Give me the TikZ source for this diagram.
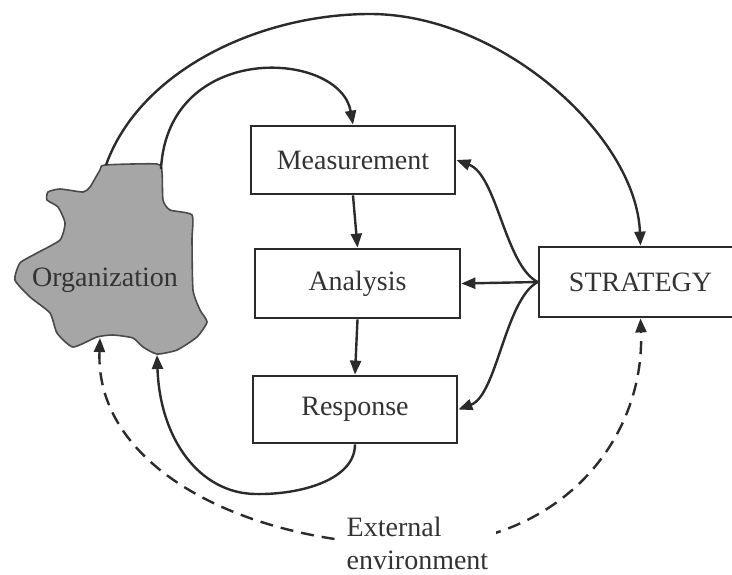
\documentclass[tikz,border=0pt]{standalone}
\usepackage{fontspec}
\setmainfont{Liberation Serif}
\usetikzlibrary{arrows.meta}
\definecolor{ink}{HTML}{2B2B2B}
\definecolor{txt}{HTML}{333333}
\definecolor{blobfill}{HTML}{A6A6A6}
\definecolor{blobline}{HTML}{4A4A4A}
\tikzset{
  stepbox/.style={draw=ink, line width=2.8pt, fill=white, minimum width=204pt,
    minimum height=68pt, inner sep=0pt, text=txt,
    font=\fontsize{28}{33}\selectfont},
  conn/.style={draw=ink, line width=2.4pt, -{Triangle[length=14pt,width=11pt]}},
  envconn/.style={draw=ink, line width=2.4pt, dash pattern=on 13pt off 8pt,
    {Triangle[length=14pt,width=11pt]}-{Triangle[length=14pt,width=11pt]}},
  lbl/.style={text=txt, font=\fontsize{28}{33}\selectfont},
}
\begin{document}
\begin{tikzpicture}[x=1pt,y=-1pt]
\clip (0,0) rectangle (732,574);
\fill[white] (0,0) rectangle (732,574);
% organization blob
\draw[fill=blobfill, draw=blobline, line width=1.6pt]
  plot[smooth cycle, tension=0.35] coordinates {
  (105,165) (157,164) (162,172) (163,200) (170,210) (192,215) (192,240)
  (193,290) (200,310) (207,322) (197,337) (177,350) (157,354) (143,347)
  (133,338) (113,335) (97,337) (73,347) (57,333) (50,313) (30,297)
  (15,280) (20,263) (37,253) (60,240) (65,223) (58,207) (47,200)
  (48,192) (60,189) (83,192) (90,187) (100,170)};
\node[lbl] (org) at (105,280) {Organization};
\coordinate (orgT1) at (106,165);
\coordinate (orgT2) at (161,169);
\coordinate (orgB1) at (100,338);
\coordinate (orgB2) at (157,355);
% boxes
\node[stepbox] (meas) at (353,160) {Measurement};
\node[stepbox, minimum width=205pt, minimum height=69pt] (ana) at (357.5,283.5) {Analysis};
\node[stepbox, minimum height=67pt] (resp) at (355,409.5) {Response};
\node[stepbox, minimum width=203pt, minimum height=70pt] (strat) at (640.5,282) {STRATEGY};
% connectors
\draw[conn] (meas.south) -- (ana.north);
\draw[conn] (ana.south) -- (resp.north);
\draw[conn] (strat.west) -- (ana.east);
\draw[conn] (strat.west) .. controls (505,265) and (497,175) .. (meas.east);
\draw[conn] (strat.west) .. controls (505,300) and (497,395) .. (resp.east);
\draw[conn] (orgT1) .. controls (140,70) and (260,14) .. (370,14)
  .. controls (500,14) and (636,135) .. (strat.north);
\draw[conn] (orgT2) .. controls (168,40) and (340,50) .. (meas.north);
\draw[conn] (resp.south) .. controls (355,480) and (300,495) .. (255,494)
  .. controls (200,493) and (160,440) .. (orgB2);
\draw[envconn] (orgB1) .. controls (95,470) and (250,545) .. (415,545)
  .. controls (560,545) and (645,440) .. (strat.south);
\node[lbl, fill=white, align=left, inner ysep=2pt, inner xsep=8pt] (env) at (417.5,543) {External\\environment};
\end{tikzpicture}
\end{document}
